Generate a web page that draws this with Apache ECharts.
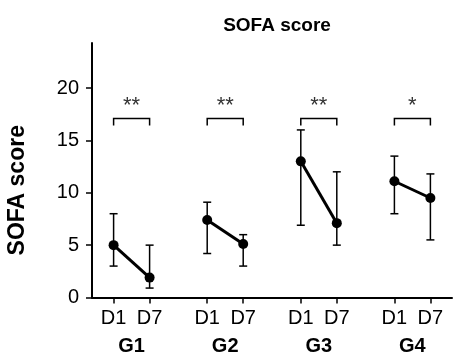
<!DOCTYPE html>
<html>
<head>
<meta charset="utf-8">
<script src="https://cdn.jsdelivr.net/npm/echarts@6/dist/echarts.min.js"></script>
<style>
  html, body { margin: 0; padding: 0; background: #fff; }
  #main { width: 453px; height: 360px; }
</style>
</head>
<body>
<div id="main"></div>
<script>
// data
const groups = ['G1', 'G2', 'G3', 'G4'];
const days = ['D1', 'D7'];
const meanD1 = [5, 7.4, 13, 11.1];
const meanD7 = [1.9, 5.1, 7.1, 9.5];
const lowD1 = [3, 4.2, 6.9, 8];
const highD1 = [8, 9.1, 16, 13.5];
const lowD7 = [0.9, 3, 5, 5.5];
const highD7 = [5, 6, 12, 11.8];
const sigLabels = ['**', '**', '**', '*'];
const yTicks = [0, 5, 10, 15, 20];
const bracketLevel = 17.1;

// x layout: each group takes two day slots, groups spaced apart
const groupStep = 2.6;
const font = 'Liberation Sans, Arial, Helvetica, sans-serif';

let tickPos = [];
let tickNames = [];
let groupPos = [];
groups.forEach(function (g, i) {
  days.forEach(function (d, j) {
    tickPos.push(i * groupStep + j);
    tickNames.push(d);
  });
  groupPos.push(i * groupStep + 0.5);
});

function nameAt(list, names, v) {
  for (let i = 0; i < list.length; i++) {
    if (Math.abs(list[i] - v) < 1e-6) return names[i];
  }
  return '';
}

let lineSeries = groups.map(function (g, i) {
  return {
    type: 'line',
    data: [[i * groupStep, meanD1[i]], [i * groupStep + 1, meanD7[i]]],
    symbol: 'circle',
    symbolSize: 10,
    lineStyle: { color: '#000', width: 3 },
    itemStyle: { color: '#000' },
    z: 5
  };
});

let errData = [];
groups.forEach(function (g, i) {
  errData.push([i * groupStep, lowD1[i], highD1[i]]);
  errData.push([i * groupStep + 1, lowD7[i], highD7[i]]);
});

let bracketData = groups.map(function (g, i) {
  return [i * groupStep, i * groupStep + 1, bracketLevel, i];
});

let chartDom = document.getElementById('main');
let myChart = echarts.init(chartDom);
let option = {
  animation: false,
  textStyle: { fontFamily: font },
  title: {
    text: 'SOFA score',
    left: 272,
    top: 11,
    textAlign: 'center',
    textStyle: { fontSize: 19, fontWeight: 'bold', color: '#000', fontFamily: font }
  },
  grid: { left: 92, right: 1, top: 43, bottom: 62.5, outerBoundsMode: 'none' },
  xAxis: [
    {
      type: 'value',
      min: -0.6,
      max: 9.4,
      axisLine: { onZero: false, lineStyle: { color: '#000', width: 2 } },
      axisTick: { customValues: tickPos, length: 6, lineStyle: { color: '#000', width: 1.5 } },
      axisLabel: {
        customValues: tickPos,
        margin: 11,
        fontSize: 20,
        color: '#000',
        formatter: function (v) { return nameAt(tickPos, tickNames, v); }
      },
      splitLine: { show: false }
    },
    {
      type: 'value',
      position: 'bottom',
      offset: 30,
      min: -0.6,
      max: 9.4,
      axisLine: { show: false, onZero: false },
      axisTick: { show: false },
      axisLabel: {
        customValues: groupPos,
        margin: 9,
        fontSize: 20,
        fontWeight: 'bold',
        color: '#000',
        formatter: function (v) { return nameAt(groupPos, groups, v); }
      },
      splitLine: { show: false }
    }
  ],
  yAxis: {
    type: 'value',
    min: 0,
    max: 24.3,
    name: 'SOFA score',
    nameLocation: 'middle',
    nameGap: 63,
    nameTextStyle: { fontSize: 23, fontWeight: 'bold', color: '#000', padding: [0, 40, 0, 0] },
    axisLine: { show: true, onZero: false, lineStyle: { color: '#000', width: 2 } },
    axisTick: { show: true, customValues: yTicks, length: 6, lineStyle: { color: '#000', width: 1.5 } },
    axisLabel: { customValues: yTicks, margin: 13, fontSize: 20, color: '#000' },
    splitLine: { show: false }
  },
  series: lineSeries.concat([
    {
      type: 'custom',
      data: errData,
      z: 4,
      renderItem: function (params, api) {
        let top = api.coord([api.value(0), api.value(2)]);
        let bot = api.coord([api.value(0), api.value(1)]);
        let cap = 4;
        let st = { stroke: '#000', lineWidth: 1.5 };
        return {
          type: 'group',
          children: [
            { type: 'line', shape: { x1: top[0], y1: top[1], x2: bot[0], y2: bot[1] }, style: st },
            { type: 'line', shape: { x1: top[0] - cap, y1: top[1], x2: top[0] + cap, y2: top[1] }, style: st },
            { type: 'line', shape: { x1: bot[0] - cap, y1: bot[1], x2: bot[0] + cap, y2: bot[1] }, style: st }
          ]
        };
      }
    },
    {
      type: 'custom',
      data: bracketData,
      z: 4,
      renderItem: function (params, api) {
        let a = api.coord([api.value(0), api.value(2)]);
        let b = api.coord([api.value(1), api.value(2)]);
        let leg = 7;
        let st = { stroke: '#000', lineWidth: 1.5, fill: null };
        return {
          type: 'group',
          children: [
            {
              type: 'polyline',
              shape: { points: [[a[0], a[1] + leg], [a[0], a[1]], [b[0], b[1]], [b[0], b[1] + leg]] },
              style: st
            },
            {
              type: 'text',
              x: (a[0] + b[0]) / 2,
              y: a[1] - 1,
              style: {
                text: sigLabels[api.value(3)],
                fill: '#333',
                font: '22px ' + font,
                align: 'center',
                verticalAlign: 'bottom'
              }
            }
          ]
        };
      }
    }
  ])
};
option && myChart.setOption(option);
</script>
</body>
</html>
